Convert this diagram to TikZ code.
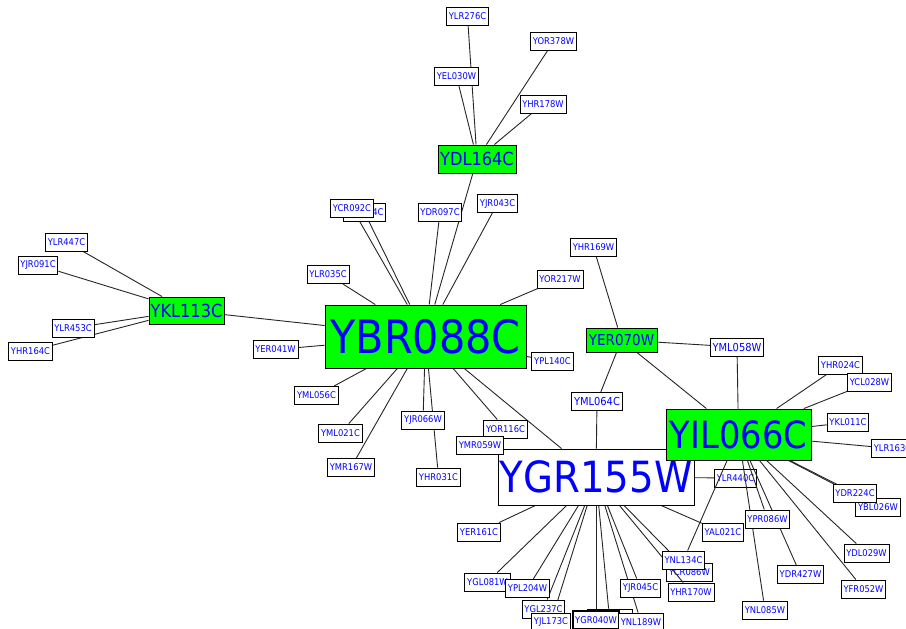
\documentclass[tikz,border=0pt]{standalone}
\usepackage{fontspec}
\setmainfont{DejaVu Sans}[FakeStretch=0.9]
\definecolor{ngreen}{RGB}{0,255,0}
\definecolor{nblue}{RGB}{0,0,255}
\pgfdeclarelayer{bg}
\pgfdeclarelayer{backnodes}
\pgfdeclarelayer{edges}
\pgfsetlayers{bg,backnodes,edges,main}
\tikzset{
  sn/.style={draw=black, fill=white, text=nblue, font=\fontsize{9.3}{10}\selectfont,
    inner xsep=2.3pt, inner ysep=0pt, minimum height=18pt, line width=0.9pt},
  snb/.style={sn, font=\fontsize{11}{12}\selectfont},
  gn/.style={draw=black, fill=ngreen, text=nblue, inner sep=0pt, line width=0.9pt},
  wn/.style={gn, fill=white},
  ed/.style={draw=black!85, line width=0.9pt}
}
\begin{document}
\begin{tikzpicture}[x=1pt,y=-1pt]
\begin{pgfonlayer}{bg}
\fill[white] (0,0) rectangle (906,629);
\end{pgfonlayer}
\useasboundingbox (0,0) rectangle (906,629);
% hub nodes
\node[gn, minimum width=201pt, minimum height=63pt, font=\fontsize{46}{48}\selectfont] (YBR088C) at (425.5,336.5) {YBR088C};
\node[wn, minimum width=196pt, minimum height=56pt, font=\fontsize{43}{45}\selectfont] (YGR155W) at (596,477) {YGR155W};
\node[gn, minimum width=145pt, minimum height=51pt, font=\fontsize{37.5}{40}\selectfont] (YIL066C) at (738.5,434.5) {YIL066C};
\node[gn, minimum width=78pt, minimum height=28pt, font=\fontsize{18}{20}\selectfont] (YDL164C) at (477,159) {YDL164C};
\node[gn, minimum width=75pt, minimum height=27pt, font=\fontsize{18}{20}\selectfont] (YKL113C) at (186.5,310.5) {YKL113C};
\node[gn, minimum width=71pt, minimum height=24pt, font=\fontsize{15}{17}\selectfont] (YER070W) at (621.5,340) {YER070W};
% small nodes
\node[sn] (YLR276C) at (467.5,16) {YLR276C};
\node[sn] (YOR378W) at (553.5,41.5) {YOR378W};
\node[sn] (YEL030W) at (456.5,76) {YEL030W};
\node[sn] (YHR178W) at (543,104) {YHR178W};
\node[sn] (YGL044C) at (364.5,212.5) {YGL044C};
\node[sn] (YCR092C) at (352,208) {YCR092C};
\node[sn] (YDR097C) at (440,212) {YDR097C};
\node[sn] (YJR043C) at (497.5,203.5) {YJR043C};
\node[sn] (YLR447C) at (66.5,242) {YLR447C};
\node[sn] (YJR091C) at (38,265) {YJR091C};
\node[sn] (YLR453C) at (73,328) {YLR453C};
\node[sn] (YHR164C) at (30.5,351) {YHR164C};
\node[sn] (YER041W) at (275.5,349.5) {YER041W};
\node[sn] (YLR035C) at (328,274.5) {YLR035C};
\node[sn] (YOR217W) at (560,279) {YOR217W};
\node[sn] (YPL140C) at (552.5,361.5) {YPL140C};
\node[sn] (YML056C) at (316.5,395.5) {YML056C};
\node[sn] (YML021C) at (340.5,433) {YML021C};
\node[sn] (YJR066W) at (423,420) {YJR066W};
\node[sn] (YOR116C) at (505.5,429) {YOR116C};
\node[sn] (YMR059W) at (480,445) {YMR059W};
\node[sn] (YMR167W) at (351,467.5) {YMR167W};
\node[sn] (YHR031C) at (438.5,477) {YHR031C};
\node[sn] (YHR169W) at (593.5,247.5) {YHR169W};
\node[snb] (YML058W) at (737,347) {YML058W};
\node[snb] (YML064C) at (597,401.5) {YML064C};
\node[sn] (YHR024C) at (840.5,365) {YHR024C};
\node[sn] (YCL028W) at (869.5,382.5) {YCL028W};
\node[sn] (YKL011C) at (848,422.5) {YKL011C};
\node[sn] (YLR163C) at (892.5,448.5) {YLR163C};
\begin{pgfonlayer}{backnodes}
\node[sn] (YLR440C) at (735.5,478) {YLR440C};
\node[sn] (YCR086W) at (689.5,572) {YCR086W};
\end{pgfonlayer}
\node[sn] (YBL026W) at (878,507) {YBL026W};
\node[sn] (YDR224C) at (855,493.5) {YDR224C};
\node[sn] (YPR086W) at (767.5,519) {YPR086W};
\node[sn] (YAL021C) at (723,532.5) {YAL021C};
\node[sn] (YDL029W) at (866.5,553) {YDL029W};
\node[sn] (YNL134C) at (683.5,560) {YNL134C};
\node[sn] (YDR427W) at (800.5,574.5) {YDR427W};
\node[sn] (YHR170W) at (691,592) {YHR170W};
\node[sn] (YFR052W) at (863.5,589) {YFR052W};
\node[sn] (YNL085W) at (765,610) {YNL085W};
\node[sn] (YER161C) at (479,532) {YER161C};
\node[sn] (YGL081W) at (487.5,582) {YGL081W};
\node[sn] (YPL204W) at (527.5,588.5) {YPL204W};
\node[sn] (YGL237C) at (543.5,609) {YGL237C};
\node[sn] (YJL173C) at (551,622) {YJL173C};
\node[sn, minimum width=45pt] (YGR040X) at (609.5,618) {};
\node[sn, line width=1.6pt] (YGR040W) at (596,620) {YGR040W};
\node[sn] (YNL189W) at (641,622) {YNL189W};
\node[sn] (YJR045C) at (640.5,588) {YJR045C};
% edges
\begin{pgfonlayer}{edges}
\foreach \a in {YLR276C,YEL030W,YOR378W,YHR178W,YBR088C} \draw[ed] (YDL164C) -- (\a);
\foreach \a in {YLR447C,YJR091C,YLR453C,YHR164C,YBR088C} \draw[ed] (YKL113C) -- (\a);
\foreach \a in {YER041W,YLR035C,YCR092C,YGL044C,YDR097C,YJR043C,YOR217W,YPL140C,YML056C,YML021C,YMR167W,YJR066W,YHR031C,YOR116C,YGR155W}
  \draw[ed] (YBR088C) -- (\a);
\foreach \a in {YHR169W,YML058W,YML064C,YIL066C} \draw[ed] (YER070W) -- (\a);
\foreach \a in {YML058W,YHR024C,YCL028W,YKL011C,YLR163C,YDR224C,YBL026W,YDL029W,YFR052W,YDR427W,YPR086W,YNL085W,YNL134C}
  \draw[ed] (YIL066C) -- (\a);
\foreach \a in {YML064C,YMR059W,YLR440C,YAL021C,YER161C,YGL081W,YPL204W,YGL237C,YJL173C,YGR040W,YGR040X,YJR045C,YNL189W,YCR086W,YHR170W}
  \draw[ed] (YGR155W) -- (\a);
\end{pgfonlayer}
\end{tikzpicture}
\end{document}
